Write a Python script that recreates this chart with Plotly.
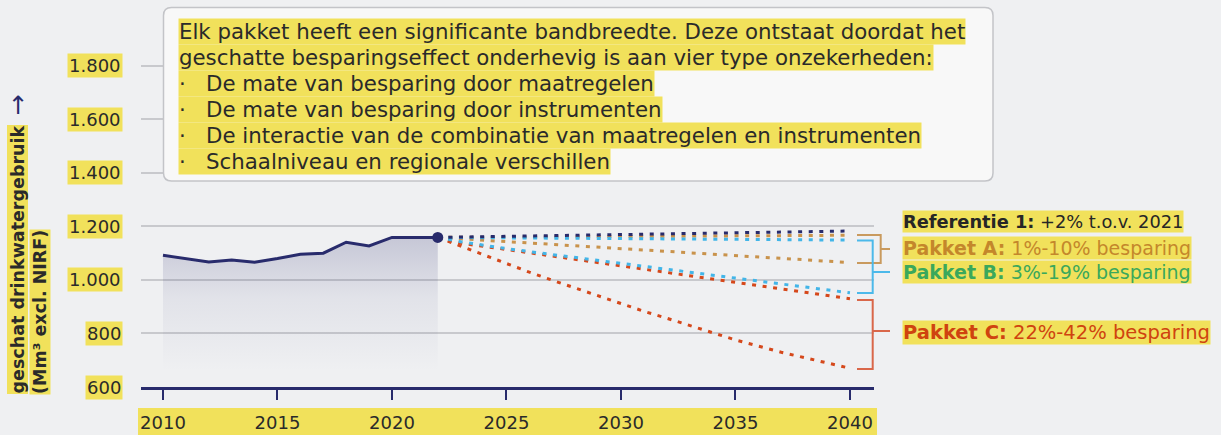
import plotly.graph_objects as go

# ---------------- data ----------------
hist_years = [2010, 2011, 2012, 2013, 2014, 2015, 2016, 2017, 2018, 2019, 2020, 2021, 2022]
hist_vals = [1092, 1080, 1067, 1075, 1066, 1080, 1096, 1100, 1141, 1127, 1159, 1159, 1159]

ref_years = [2022, 2040]
ref_vals = [1159, 1183]

a_hi_years = [2022, 2040]
a_hi_vals = [1159, 1167]
a_lo_years = [2022, 2040]
a_lo_vals = [1159, 1065]

b_hi_years = [2022, 2040]
b_hi_vals = [1159, 1149]
b_lo_years = [2022, 2023, 2025, 2030, 2035, 2040]
b_lo_vals = [1159, 1143, 1117, 1063, 1007, 952]

c_hi_years = [2022, 2023, 2025, 2030, 2035, 2040]
c_hi_vals = [1159, 1137, 1114, 1053, 991, 930]
c_lo_years = list(range(2022, 2041))
c_lo_vals = [1159, 1127, 1094, 1060, 1029, 999, 970, 939, 910, 883,
             857, 829, 803, 776, 752, 730, 710, 689, 670]

x_ticks = [2010, 2015, 2020, 2025, 2030, 2035, 2040]
y_ticks = [600, 800, 1000, 1200, 1400, 1600, 1800]
y_tick_labels = ["600", "800", "1.000", "1.200", "1.400", "1.600", "1.800"]

box_lines = [
    "Elk pakket heeft een significante bandbreedte. Deze ontstaat doordat het",
    "geschatte besparingseffect onderhevig is aan vier type onzekerheden:",
    "·\u00a0\u00a0\u00a0De mate van besparing door maatregelen",
    "·\u00a0\u00a0\u00a0De mate van besparing door instrumenten",
    "·\u00a0\u00a0\u00a0De interactie van de combinatie van maatregelen en instrumenten",
    "·\u00a0\u00a0\u00a0Schaalniveau en regionale verschillen",
]

series_labels = [
    ("Referentie 1:", "+2% t.o.v. 2021"),
    ("Pakket A:", "1%-10% besparing"),
    ("Pakket B:", "3%-19% besparing"),
    ("Pakket C:", "22%-42% besparing"),
]

# ---------------- style ----------------
NAVY = "#282b6c"
TAN = "#c9934c"
BLUE = "#42b5e8"
RED = "#d5481b"
YELLOW = "#f1e15b"
BG = "#eff0f2"
TXT = "#2a2a2a"
FONT = "DejaVu Sans"

W, H = 1221, 435
L, R, T, B = 141, 347, 60, 48
PW, PH = W - L - R, H - T - B


def px_x(px):
    return (px - L) / PW


def px_y(py):
    return (H - B - py) / PH


DOT = "4px,6.6px"

fig = go.Figure()

# baseline at the axis minimum, used as lower edge of the historical area
fig.add_trace(go.Scatter(x=hist_years, y=[y_ticks[0]] * len(hist_years), mode="lines",
                         line=dict(width=0, color="rgba(0,0,0,0)"), hoverinfo="skip"))
# historical
fig.add_trace(go.Scatter(
    x=hist_years, y=hist_vals, mode="lines",
    line=dict(color=NAVY, width=3),
    fill="tonexty",
    fillgradient=dict(type="vertical",
                      colorscale=[[0, "rgba(43,45,110,0)"], [0.55, "rgba(43,45,110,0.07)"],
                                  [1, "rgba(43,45,110,0.21)"]],
                      start=660, stop=1160),
    hoverinfo="skip",
))

proj = [
    (c_lo_years, c_lo_vals, RED),
    (c_hi_years, c_hi_vals, RED),
    (a_lo_years, a_lo_vals, TAN),
    (b_lo_years, b_lo_vals, BLUE),
    (a_hi_years, a_hi_vals, TAN),
    (b_hi_years, b_hi_vals, BLUE),
    (ref_years, ref_vals, NAVY),
]
for xs, ys, col in proj:
    fig.add_trace(go.Scatter(x=xs, y=ys, mode="lines",
                             line=dict(color=col, width=3, dash=DOT),
                             hoverinfo="skip"))

fig.add_trace(go.Scatter(x=[hist_years[-1]], y=[hist_vals[-1]], mode="markers",
                         marker=dict(color=NAVY, size=11), hoverinfo="skip"))

shapes = []
annotations = []

# x tick label band
shapes.append(dict(type="rect", xref="paper", yref="paper",
                   x0=px_x(138), x1=px_x(877), y0=px_y(436), y1=px_y(408),
                   fillcolor=YELLOW, line=dict(width=0), layer="below"))

# text box (rounded)
bx0, bx1, by0, by1, rr = 163.5, 993, 7.5, 181, 8


def P(x, y):
    return f"{px_x(x):.5f},{px_y(y):.5f}"


path = (f"M {P(bx0 + rr, by0)} L {P(bx1 - rr, by0)} Q {P(bx1, by0)} {P(bx1, by0 + rr)} "
        f"L {P(bx1, by1 - rr)} Q {P(bx1, by1)} {P(bx1 - rr, by1)} "
        f"L {P(bx0 + rr, by1)} Q {P(bx0, by1)} {P(bx0, by1 - rr)} "
        f"L {P(bx0, by0 + rr)} Q {P(bx0, by0)} {P(bx0 + rr, by0)} Z")
shapes.append(dict(type="path", xref="paper", yref="paper", path=path,
                   fillcolor="#f8f8f8", line=dict(color="#c3c4c8", width=1.5), layer="above"))

line_y = [32, 57, 83, 109, 135, 161]
for txt, yy in zip(box_lines, line_y):
    annotations.append(dict(text=txt, xref="paper", yref="paper", x=px_x(178), y=px_y(yy),
                            xanchor="left", yanchor="middle", showarrow=False,
                            bgcolor=YELLOW, borderpad=0,
                            font=dict(family=FONT, size=21.3, color=TXT)))

# y tick labels
for v, lab in zip(y_ticks, y_tick_labels):
    annotations.append(dict(text=lab, xref="paper", yref="y", x=px_x(123), y=v,
                            xanchor="right", yanchor="middle", showarrow=False,
                            bgcolor=YELLOW, borderpad=1,
                            font=dict(family=FONT, size=18, color=TXT)))

# y axis title
annotations.append(dict(text="<b>geschat drinkwatergebruik</b>", xref="paper", yref="paper",
                        x=px_x(17.5), y=px_y(395), xanchor="center", yanchor="bottom",
                        textangle=-90, showarrow=False, bgcolor=YELLOW, borderpad=0,
                        font=dict(family=FONT, size=17.5, color=TXT)))
annotations.append(dict(text="<b>(Mm³ excl. NIRF)</b>", xref="paper", yref="paper",
                        x=px_x(40), y=px_y(395), xanchor="center", yanchor="bottom",
                        textangle=-90, showarrow=False, bgcolor=YELLOW, borderpad=0,
                        font=dict(family=FONT, size=17.5, color=TXT)))
annotations.append(dict(text="→", xref="paper", yref="paper",
                        x=px_x(17.5), y=px_y(105), xanchor="center", yanchor="middle",
                        textangle=-90, showarrow=False,
                        font=dict(family=FONT, size=25, color=NAVY)))


# brackets
def bracket(top, bot, xv, col, mid_py):
    x_start = px_x(857)
    xv_p = px_x(xv)
    shapes.append(dict(type="path", xref="paper", yref="paper",
                       path=(f"M {x_start:.5f},{px_y(top):.5f} L {xv_p:.5f},{px_y(top):.5f} "
                             f"L {xv_p:.5f},{px_y(bot):.5f} L {x_start:.5f},{px_y(bot):.5f}"),
                       line=dict(color=col, width=2)))
    shapes.append(dict(type="line", xref="paper", yref="paper",
                       x0=xv_p, x1=px_x(890), y0=px_y(mid_py), y1=px_y(mid_py),
                       line=dict(color=col, width=2)))


bracket(235, 263, 880.7, "#c99a5e", 249)
bracket(240.5, 293, 872.7, "#4cb9ea", 272)
bracket(300, 369, 872.7, "#d9674a", 331)

label_colors = ["#262626", "#c4872b", "#3aa85c", "#cf430f"]
label_y = [221, 247.5, 272, 332]
label_sizes = [17.8, 19, 19, 19.5]
for (bold, rest), col, yy, sz in zip(series_labels, label_colors, label_y, label_sizes):
    annotations.append(dict(text=f"<b>{bold}</b> {rest}", xref="paper", yref="paper",
                            x=px_x(901.5), y=px_y(yy),
                            xanchor="left", yanchor="middle", showarrow=False,
                            bgcolor=YELLOW, borderpad=0,
                            font=dict(family=FONT, size=sz, color=col)))

fig.update_layout(
    width=W, height=H,
    margin=dict(l=L, r=R, t=T, b=B, pad=0, autoexpand=False),
    paper_bgcolor=BG, plot_bgcolor=BG,
    showlegend=False,
    shapes=shapes, annotations=annotations,
    xaxis=dict(range=[2009.04, 2041.05], tickvals=x_ticks, ticktext=[str(v) for v in x_ticks],
               automargin=False,
               showgrid=False, zeroline=False, showline=True, linecolor=NAVY, linewidth=2.5,
               ticks="outside", ticklen=10, tickwidth=2, tickcolor=NAVY,
               ticklabelstandoff=8,
               tickfont=dict(family=FONT, size=18, color=TXT)),
    yaxis=dict(range=[600, 1822], tickvals=y_ticks, showticklabels=False, automargin=False,
               showgrid=True, gridcolor="#c8c9cd", gridwidth=1.5, zeroline=False,
               showline=False, ticks=""),
)

fig.write_html(
    "out.html",
    config={"displayModeBar": False},
    post_script=("document.body.style.margin='0px';"
                 "document.body.style.backgroundColor='#eff0f2';"
                 "document.documentElement.style.overflow='hidden';"),
)
